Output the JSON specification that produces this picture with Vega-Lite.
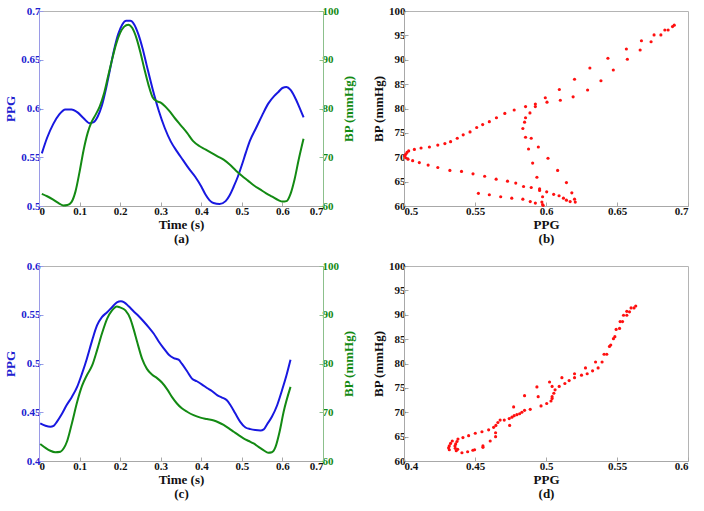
{
  "$schema": "https://vega.github.io/schema/vega-lite/v6.json",
  "padding": {"left": 4, "top": 4, "right": 0, "bottom": 0},
  "background": "white",
  "config": {
    "font": "Liberation Serif",
    "view": {"stroke": "#b4b4b4", "strokeWidth": 1},
    "axis": {
      "labelFont": "Liberation Serif", "labelFontWeight": "bold", "labelFontSize": 11, "labelColor": "#111111",
      "titleFont": "Liberation Serif", "titleFontWeight": "bold", "titleFontSize": 13, "titleColor": "#111111",
      "grid": false, "tickSize": -4, "labelPadding": 3, "titlePadding": 3, "domainColor": "#a8a8a8", "tickColor": "#a8a8a8", "titleLineHeight": 14
    }
  },
  "datasets": {
    "a_ppg": [
      {"t": 0.007, "ppg": 0.554}, {"t": 0.02, "ppg": 0.570}, {"t": 0.035, "ppg": 0.584}, {"t": 0.05, "ppg": 0.594},
      {"t": 0.065, "ppg": 0.599}, {"t": 0.08, "ppg": 0.599}, {"t": 0.095, "ppg": 0.596}, {"t": 0.11, "ppg": 0.590},
      {"t": 0.125, "ppg": 0.585}, {"t": 0.135, "ppg": 0.586}, {"t": 0.145, "ppg": 0.592}, {"t": 0.155, "ppg": 0.603},
      {"t": 0.165, "ppg": 0.620}, {"t": 0.175, "ppg": 0.640}, {"t": 0.185, "ppg": 0.660}, {"t": 0.195, "ppg": 0.676},
      {"t": 0.205, "ppg": 0.686}, {"t": 0.215, "ppg": 0.690}, {"t": 0.225, "ppg": 0.690}, {"t": 0.235, "ppg": 0.686},
      {"t": 0.245, "ppg": 0.676}, {"t": 0.255, "ppg": 0.662}, {"t": 0.265, "ppg": 0.645}, {"t": 0.28, "ppg": 0.620},
      {"t": 0.295, "ppg": 0.598}, {"t": 0.31, "ppg": 0.580}, {"t": 0.325, "ppg": 0.566}, {"t": 0.34, "ppg": 0.556},
      {"t": 0.355, "ppg": 0.547}, {"t": 0.37, "ppg": 0.538}, {"t": 0.385, "ppg": 0.530}, {"t": 0.40, "ppg": 0.520},
      {"t": 0.41, "ppg": 0.512}, {"t": 0.42, "ppg": 0.506}, {"t": 0.43, "ppg": 0.503}, {"t": 0.445, "ppg": 0.502},
      {"t": 0.46, "ppg": 0.505}, {"t": 0.47, "ppg": 0.511}, {"t": 0.48, "ppg": 0.520}, {"t": 0.49, "ppg": 0.530},
      {"t": 0.50, "ppg": 0.542}, {"t": 0.51, "ppg": 0.555}, {"t": 0.52, "ppg": 0.567}, {"t": 0.535, "ppg": 0.580},
      {"t": 0.55, "ppg": 0.593}, {"t": 0.565, "ppg": 0.605}, {"t": 0.58, "ppg": 0.613}, {"t": 0.59, "ppg": 0.617},
      {"t": 0.60, "ppg": 0.621}, {"t": 0.61, "ppg": 0.622}, {"t": 0.62, "ppg": 0.619}, {"t": 0.63, "ppg": 0.612},
      {"t": 0.64, "ppg": 0.603}, {"t": 0.652, "ppg": 0.591}
    ],
    "a_bp": [
      {"t": 0.007, "bp": 62.5}, {"t": 0.02, "bp": 62.0}, {"t": 0.035, "bp": 61.3}, {"t": 0.05, "bp": 60.5},
      {"t": 0.06, "bp": 60.1}, {"t": 0.07, "bp": 60.2}, {"t": 0.08, "bp": 60.8}, {"t": 0.09, "bp": 63.0},
      {"t": 0.10, "bp": 67.0}, {"t": 0.11, "bp": 71.5}, {"t": 0.12, "bp": 75.0}, {"t": 0.13, "bp": 77.3},
      {"t": 0.14, "bp": 78.8}, {"t": 0.15, "bp": 80.5}, {"t": 0.16, "bp": 83.0}, {"t": 0.17, "bp": 86.5},
      {"t": 0.18, "bp": 90.0}, {"t": 0.19, "bp": 93.2}, {"t": 0.20, "bp": 95.5}, {"t": 0.21, "bp": 96.8},
      {"t": 0.22, "bp": 97.2}, {"t": 0.23, "bp": 96.5}, {"t": 0.24, "bp": 94.5}, {"t": 0.25, "bp": 91.5},
      {"t": 0.26, "bp": 88.0}, {"t": 0.27, "bp": 84.8}, {"t": 0.28, "bp": 82.3}, {"t": 0.29, "bp": 81.5},
      {"t": 0.30, "bp": 81.2}, {"t": 0.31, "bp": 80.5}, {"t": 0.32, "bp": 79.6}, {"t": 0.335, "bp": 78.0},
      {"t": 0.35, "bp": 76.5}, {"t": 0.365, "bp": 75.0}, {"t": 0.38, "bp": 73.3}, {"t": 0.395, "bp": 72.3},
      {"t": 0.41, "bp": 71.6}, {"t": 0.425, "bp": 70.9}, {"t": 0.44, "bp": 70.2}, {"t": 0.455, "bp": 69.5},
      {"t": 0.47, "bp": 68.5}, {"t": 0.485, "bp": 67.3}, {"t": 0.50, "bp": 66.2}, {"t": 0.515, "bp": 65.2},
      {"t": 0.53, "bp": 64.2}, {"t": 0.545, "bp": 63.4}, {"t": 0.56, "bp": 62.6}, {"t": 0.575, "bp": 61.9},
      {"t": 0.59, "bp": 61.2}, {"t": 0.60, "bp": 60.9}, {"t": 0.61, "bp": 61.0}, {"t": 0.62, "bp": 62.5},
      {"t": 0.63, "bp": 65.5}, {"t": 0.64, "bp": 69.5}, {"t": 0.652, "bp": 73.8}
    ],
    "b_pts": [
      {"ppg": 0.5524, "bp": 62.6}, {"ppg": 0.5601, "bp": 62.3}, {"ppg": 0.5681, "bp": 61.9}, {"ppg": 0.5759, "bp": 61.6},
      {"ppg": 0.5837, "bp": 61.4}, {"ppg": 0.5889, "bp": 60.9}, {"ppg": 0.5925, "bp": 60.6}, {"ppg": 0.5976, "bp": 60.3},
      {"ppg": 0.5980, "bp": 60.1},
      {"ppg": 0.5971, "bp": 60.8}, {"ppg": 0.5976, "bp": 61.9}, {"ppg": 0.5955, "bp": 63.2}, {"ppg": 0.5936, "bp": 65.9},
      {"ppg": 0.5906, "bp": 68.8}, {"ppg": 0.5877, "bp": 71.7}, {"ppg": 0.5856, "bp": 74.1}, {"ppg": 0.5837, "bp": 75.9},
      {"ppg": 0.5849, "bp": 77.2}, {"ppg": 0.5856, "bp": 78.1}, {"ppg": 0.5887, "bp": 79.1}, {"ppg": 0.5925, "bp": 80.4},
      {"ppg": 0.5995, "bp": 82.2},
      {"ppg": 0.6094, "bp": 83.9}, {"ppg": 0.6201, "bp": 86.0}, {"ppg": 0.6309, "bp": 88.3}, {"ppg": 0.6436, "bp": 90.3},
      {"ppg": 0.6566, "bp": 92.2}, {"ppg": 0.6672, "bp": 93.9}, {"ppg": 0.6761, "bp": 95.1}, {"ppg": 0.6837, "bp": 96.1},
      {"ppg": 0.6891, "bp": 96.8},
      {"ppg": 0.6903, "bp": 97.1}, {"ppg": 0.6860, "bp": 96.1}, {"ppg": 0.6809, "bp": 95.1}, {"ppg": 0.6740, "bp": 93.7},
      {"ppg": 0.6663, "bp": 92.0}, {"ppg": 0.6573, "bp": 90.1}, {"ppg": 0.6474, "bp": 87.9}, {"ppg": 0.6387, "bp": 85.7},
      {"ppg": 0.6293, "bp": 83.8}, {"ppg": 0.6191, "bp": 82.4}, {"ppg": 0.6101, "bp": 81.7}, {"ppg": 0.6007, "bp": 81.3},
      {"ppg": 0.5925, "bp": 80.9},
      {"ppg": 0.5856, "bp": 80.4}, {"ppg": 0.5776, "bp": 79.7}, {"ppg": 0.5710, "bp": 79.0}, {"ppg": 0.5651, "bp": 78.1},
      {"ppg": 0.5601, "bp": 77.3}, {"ppg": 0.5554, "bp": 76.7}, {"ppg": 0.5512, "bp": 76.1}, {"ppg": 0.5465, "bp": 75.2},
      {"ppg": 0.5417, "bp": 74.6}, {"ppg": 0.5375, "bp": 73.9}, {"ppg": 0.5328, "bp": 73.2}, {"ppg": 0.5288, "bp": 72.8},
      {"ppg": 0.5238, "bp": 72.5}, {"ppg": 0.5179, "bp": 72.1}, {"ppg": 0.5120, "bp": 71.9}, {"ppg": 0.5073, "bp": 71.6},
      {"ppg": 0.5033, "bp": 71.3},
      {"ppg": 0.5021, "bp": 71.0}, {"ppg": 0.5012, "bp": 70.6}, {"ppg": 0.5005, "bp": 70.3}, {"ppg": 0.5012, "bp": 69.9},
      {"ppg": 0.5028, "bp": 69.6},
      {"ppg": 0.5061, "bp": 69.3}, {"ppg": 0.5108, "bp": 68.9}, {"ppg": 0.5170, "bp": 68.4}, {"ppg": 0.5238, "bp": 67.9},
      {"ppg": 0.5323, "bp": 67.3}, {"ppg": 0.5405, "bp": 67.1}, {"ppg": 0.5486, "bp": 66.6}, {"ppg": 0.5568, "bp": 66.1},
      {"ppg": 0.5649, "bp": 65.5}, {"ppg": 0.5729, "bp": 65.1}, {"ppg": 0.5787, "bp": 64.7}, {"ppg": 0.5842, "bp": 64.0},
      {"ppg": 0.5896, "bp": 63.8}, {"ppg": 0.5955, "bp": 63.5}, {"ppg": 0.6005, "bp": 62.9}, {"ppg": 0.6054, "bp": 62.4},
      {"ppg": 0.6092, "bp": 62.1}, {"ppg": 0.6123, "bp": 61.6}, {"ppg": 0.6144, "bp": 61.2}, {"ppg": 0.6170, "bp": 60.9},
      {"ppg": 0.6206, "bp": 60.8},
      {"ppg": 0.6201, "bp": 61.4}, {"ppg": 0.6182, "bp": 62.7}, {"ppg": 0.6144, "bp": 64.8}, {"ppg": 0.6082, "bp": 67.3},
      {"ppg": 0.6014, "bp": 69.8}, {"ppg": 0.5946, "bp": 72.1}, {"ppg": 0.5896, "bp": 73.9}
    ],
    "c_ppg": [
      {"t": 0.003, "ppg": 0.4385}, {"t": 0.016, "ppg": 0.4361}, {"t": 0.028, "ppg": 0.4351}, {"t": 0.036, "ppg": 0.4361},
      {"t": 0.044, "ppg": 0.4402}, {"t": 0.057, "ppg": 0.4487}, {"t": 0.069, "ppg": 0.4579}, {"t": 0.081, "ppg": 0.4657},
      {"t": 0.094, "ppg": 0.4760}, {"t": 0.106, "ppg": 0.4896}, {"t": 0.118, "ppg": 0.5049}, {"t": 0.131, "ppg": 0.5237},
      {"t": 0.143, "ppg": 0.5390}, {"t": 0.155, "ppg": 0.5475}, {"t": 0.168, "ppg": 0.5526}, {"t": 0.180, "ppg": 0.5577},
      {"t": 0.192, "ppg": 0.5628}, {"t": 0.202, "ppg": 0.5639}, {"t": 0.210, "ppg": 0.5628}, {"t": 0.221, "ppg": 0.5587},
      {"t": 0.233, "ppg": 0.5536}, {"t": 0.246, "ppg": 0.5485}, {"t": 0.258, "ppg": 0.5431}, {"t": 0.270, "ppg": 0.5373},
      {"t": 0.283, "ppg": 0.5305}, {"t": 0.295, "ppg": 0.5226}, {"t": 0.307, "ppg": 0.5158}, {"t": 0.320, "ppg": 0.5090},
      {"t": 0.332, "ppg": 0.5056}, {"t": 0.344, "ppg": 0.5039}, {"t": 0.352, "ppg": 0.4998}, {"t": 0.365, "ppg": 0.4920},
      {"t": 0.377, "ppg": 0.4845}, {"t": 0.389, "ppg": 0.4818}, {"t": 0.402, "ppg": 0.4784}, {"t": 0.414, "ppg": 0.4749},
      {"t": 0.427, "ppg": 0.4715}, {"t": 0.439, "ppg": 0.4675}, {"t": 0.451, "ppg": 0.4651}, {"t": 0.463, "ppg": 0.4623},
      {"t": 0.472, "ppg": 0.4572}, {"t": 0.484, "ppg": 0.4487}, {"t": 0.496, "ppg": 0.4402}, {"t": 0.509, "ppg": 0.4344},
      {"t": 0.521, "ppg": 0.4327}, {"t": 0.533, "ppg": 0.4317}, {"t": 0.546, "ppg": 0.4313}, {"t": 0.554, "ppg": 0.4324},
      {"t": 0.562, "ppg": 0.4375}, {"t": 0.574, "ppg": 0.4453}, {"t": 0.587, "ppg": 0.4572}, {"t": 0.599, "ppg": 0.4726},
      {"t": 0.610, "ppg": 0.4879}, {"t": 0.620, "ppg": 0.5039}
    ],
    "c_bp": [
      {"t": 0.003, "bp": 63.5}, {"t": 0.016, "bp": 62.7}, {"t": 0.028, "bp": 62.1}, {"t": 0.040, "bp": 61.8},
      {"t": 0.053, "bp": 61.9}, {"t": 0.061, "bp": 62.6}, {"t": 0.069, "bp": 64.0}, {"t": 0.081, "bp": 67.7},
      {"t": 0.094, "bp": 72.1}, {"t": 0.106, "bp": 75.4}, {"t": 0.118, "bp": 77.6}, {"t": 0.131, "bp": 79.6},
      {"t": 0.143, "bp": 82.7}, {"t": 0.155, "bp": 86.1}, {"t": 0.168, "bp": 89.2}, {"t": 0.180, "bp": 90.9},
      {"t": 0.192, "bp": 91.7}, {"t": 0.200, "bp": 91.5}, {"t": 0.213, "bp": 90.9}, {"t": 0.225, "bp": 89.2},
      {"t": 0.233, "bp": 87.1}, {"t": 0.242, "bp": 84.4}, {"t": 0.254, "bp": 81.0}, {"t": 0.266, "bp": 78.9},
      {"t": 0.279, "bp": 77.7}, {"t": 0.291, "bp": 77.0}, {"t": 0.303, "bp": 76.1}, {"t": 0.316, "bp": 74.7},
      {"t": 0.328, "bp": 73.1}, {"t": 0.340, "bp": 71.8}, {"t": 0.352, "bp": 70.8}, {"t": 0.365, "bp": 70.1},
      {"t": 0.381, "bp": 69.4}, {"t": 0.398, "bp": 68.9}, {"t": 0.414, "bp": 68.6}, {"t": 0.431, "bp": 68.3},
      {"t": 0.443, "bp": 67.9}, {"t": 0.455, "bp": 67.4}, {"t": 0.468, "bp": 66.7}, {"t": 0.480, "bp": 66.0},
      {"t": 0.492, "bp": 65.3}, {"t": 0.505, "bp": 64.6}, {"t": 0.517, "bp": 64.1}, {"t": 0.529, "bp": 63.6},
      {"t": 0.541, "bp": 62.9}, {"t": 0.554, "bp": 62.2}, {"t": 0.565, "bp": 61.7}, {"t": 0.574, "bp": 61.8},
      {"t": 0.583, "bp": 62.9}, {"t": 0.593, "bp": 66.0}, {"t": 0.603, "bp": 70.1}, {"t": 0.620, "bp": 75.2}
    ],
    "d_pts": [
      {"ppg": 0.5632, "bp": 91.8}, {"ppg": 0.5620, "bp": 91.4}, {"ppg": 0.5599, "bp": 91.4}, {"ppg": 0.5588, "bp": 90.6},
      {"ppg": 0.5569, "bp": 90.7}, {"ppg": 0.5569, "bp": 89.9}, {"ppg": 0.5546, "bp": 89.9}, {"ppg": 0.5539, "bp": 88.6},
      {"ppg": 0.5522, "bp": 88.6}, {"ppg": 0.5518, "bp": 87.2}, {"ppg": 0.5494, "bp": 87.0}, {"ppg": 0.5485, "bp": 85.5},
      {"ppg": 0.5475, "bp": 85.1}, {"ppg": 0.5456, "bp": 83.8}, {"ppg": 0.5447, "bp": 83.5}, {"ppg": 0.5428, "bp": 81.9},
      {"ppg": 0.5409, "bp": 81.9}, {"ppg": 0.5395, "bp": 80.3}, {"ppg": 0.5349, "bp": 80.3}, {"ppg": 0.5367, "bp": 79.1},
      {"ppg": 0.5328, "bp": 78.5}, {"ppg": 0.5278, "bp": 79.1}, {"ppg": 0.5290, "bp": 77.9}, {"ppg": 0.5250, "bp": 77.6},
      {"ppg": 0.5201, "bp": 77.9}, {"ppg": 0.5201, "bp": 77.1}, {"ppg": 0.5163, "bp": 76.5}, {"ppg": 0.5133, "bp": 75.9},
      {"ppg": 0.5112, "bp": 77.1}, {"ppg": 0.5093, "bp": 75.3}, {"ppg": 0.5025, "bp": 76.2}, {"ppg": 0.5043, "bp": 75.3},
      {"ppg": 0.5064, "bp": 74.6}, {"ppg": 0.5055, "bp": 73.9}, {"ppg": 0.5043, "bp": 73.2}, {"ppg": 0.5043, "bp": 72.8},
      {"ppg": 0.4936, "bp": 75.2}, {"ppg": 0.4945, "bp": 73.2}, {"ppg": 0.4849, "bp": 73.4},
      {"ppg": 0.5035, "bp": 72.3}, {"ppg": 0.5005, "bp": 71.8}, {"ppg": 0.4965, "bp": 71.3},
      {"ppg": 0.4772, "bp": 71.1}, {"ppg": 0.4889, "bp": 70.6}, {"ppg": 0.4849, "bp": 70.4}, {"ppg": 0.4830, "bp": 70.0},
      {"ppg": 0.4814, "bp": 69.7}, {"ppg": 0.4795, "bp": 69.5}, {"ppg": 0.4776, "bp": 69.3}, {"ppg": 0.4760, "bp": 69.0},
      {"ppg": 0.4741, "bp": 68.7}, {"ppg": 0.4706, "bp": 68.4}, {"ppg": 0.4744, "bp": 67.3}, {"ppg": 0.4677, "bp": 68.4},
      {"ppg": 0.4661, "bp": 67.9}, {"ppg": 0.4647, "bp": 67.3}, {"ppg": 0.4631, "bp": 66.9}, {"ppg": 0.4596, "bp": 66.4},
      {"ppg": 0.4645, "bp": 65.8}, {"ppg": 0.4645, "bp": 65.0}, {"ppg": 0.4607, "bp": 64.1}, {"ppg": 0.4549, "bp": 66.0},
      {"ppg": 0.4502, "bp": 65.7}, {"ppg": 0.4455, "bp": 65.2}, {"ppg": 0.4415, "bp": 64.8}, {"ppg": 0.4380, "bp": 64.5},
      {"ppg": 0.4556, "bp": 63.1}, {"ppg": 0.4556, "bp": 62.8}, {"ppg": 0.4497, "bp": 62.3}, {"ppg": 0.4485, "bp": 62.2},
      {"ppg": 0.4448, "bp": 61.9}, {"ppg": 0.4408, "bp": 61.7}, {"ppg": 0.4378, "bp": 62.4},
      {"ppg": 0.4340, "bp": 64.1}, {"ppg": 0.4328, "bp": 63.6}, {"ppg": 0.4319, "bp": 63.1}, {"ppg": 0.4314, "bp": 62.7},
      {"ppg": 0.4319, "bp": 62.3}, {"ppg": 0.4373, "bp": 64.0}, {"ppg": 0.4364, "bp": 63.5}, {"ppg": 0.4359, "bp": 63.1},
      {"ppg": 0.4361, "bp": 62.6}, {"ppg": 0.4368, "bp": 62.1}
    ]
  },
  "columns": 2,
  "spacing": {"row": 60, "column": 81},
  "bounds": "flush",
  "concat": [
    {
      "width": 284, "height": 195,
      "layer": [
        {
          "data": {"name": "a_ppg"},
          "mark": {"type": "line", "color": "#1818e0", "strokeWidth": 2, "interpolate": "monotone"},
          "encoding": {
            "x": {"field": "t", "type": "quantitative", "scale": {"domain": [0, 0.7], "nice": false},
                  "axis": {"values": [0, 0.1, 0.2, 0.3, 0.4, 0.5, 0.6, 0.7], "format": "~g", "title": ["Time (s)", "(a)"], "titlePadding": 2}},
            "y": {"field": "ppg", "type": "quantitative", "scale": {"domain": [0.5, 0.7], "nice": false, "zero": false},
                  "axis": {"values": [0.5, 0.55, 0.6, 0.65, 0.7], "format": "~g", "title": "PPG", "labelColor": "#2020d0", "titleColor": "#2020d0", "domainColor": "#9a9ae6", "tickColor": "#9a9ae6"}}
          }
        },
        {
          "data": {"name": "a_bp"},
          "mark": {"type": "line", "color": "#138a13", "strokeWidth": 2, "interpolate": "monotone"},
          "encoding": {
            "x": {"field": "t", "type": "quantitative"},
            "y": {"field": "bp", "type": "quantitative", "scale": {"domain": [60, 100], "nice": false, "zero": false},
                  "axis": {"orient": "right", "values": [60, 70, 80, 90, 100], "title": "BP (mmHg)", "titleAngle": 270, "titleBaseline": "top", "titlePadding": 4, "labelColor": "#138a13", "titleColor": "#138a13", "domainColor": "#8cc08c", "tickColor": "#8cc08c"}}
          }
        }
      ],
      "resolve": {"scale": {"y": "independent"}}
    },
    {
      "width": 284, "height": 195,
      "data": {"name": "b_pts"},
      "mark": {"type": "circle", "color": "#ff1010", "size": 10, "opacity": 1},
      "encoding": {
        "x": {"field": "ppg", "type": "quantitative", "scale": {"domain": [0.5, 0.7], "nice": false, "zero": false},
              "axis": {"values": [0.5, 0.55, 0.6, 0.65, 0.7], "format": "~g", "title": ["PPG", "(b)"], "titlePadding": 2}},
        "y": {"field": "bp", "type": "quantitative", "scale": {"domain": [60, 100], "nice": false, "zero": false},
              "axis": {"values": [60, 65, 70, 75, 80, 85, 90, 95, 100], "title": "BP (mmHg)"}}
      }
    },
    {
      "width": 284, "height": 195,
      "layer": [
        {
          "data": {"name": "c_ppg"},
          "mark": {"type": "line", "color": "#1818e0", "strokeWidth": 2, "interpolate": "monotone"},
          "encoding": {
            "x": {"field": "t", "type": "quantitative", "scale": {"domain": [0, 0.7], "nice": false},
                  "axis": {"values": [0, 0.1, 0.2, 0.3, 0.4, 0.5, 0.6, 0.7], "format": "~g", "title": ["Time (s)", "(c)"], "titlePadding": 2}},
            "y": {"field": "ppg", "type": "quantitative", "scale": {"domain": [0.4, 0.6], "nice": false, "zero": false},
                  "axis": {"values": [0.4, 0.45, 0.5, 0.55, 0.6], "format": "~g", "title": "PPG", "labelColor": "#2020d0", "titleColor": "#2020d0", "domainColor": "#9a9ae6", "tickColor": "#9a9ae6"}}
          }
        },
        {
          "data": {"name": "c_bp"},
          "mark": {"type": "line", "color": "#138a13", "strokeWidth": 2, "interpolate": "monotone"},
          "encoding": {
            "x": {"field": "t", "type": "quantitative"},
            "y": {"field": "bp", "type": "quantitative", "scale": {"domain": [60, 100], "nice": false, "zero": false},
                  "axis": {"orient": "right", "values": [60, 70, 80, 90, 100], "title": "BP (mmHg)", "titleAngle": 270, "titleBaseline": "top", "titlePadding": 4, "labelColor": "#138a13", "titleColor": "#138a13", "domainColor": "#8cc08c", "tickColor": "#8cc08c"}}
          }
        }
      ],
      "resolve": {"scale": {"y": "independent"}}
    },
    {
      "width": 284, "height": 195,
      "data": {"name": "d_pts"},
      "mark": {"type": "circle", "color": "#ff1010", "size": 10, "opacity": 1},
      "encoding": {
        "x": {"field": "ppg", "type": "quantitative", "scale": {"domain": [0.4, 0.6], "nice": false, "zero": false},
              "axis": {"values": [0.4, 0.45, 0.5, 0.55, 0.6], "format": "~g", "title": ["PPG", "(d)"], "titlePadding": 2}},
        "y": {"field": "bp", "type": "quantitative", "scale": {"domain": [60, 100], "nice": false, "zero": false},
              "axis": {"values": [60, 65, 70, 75, 80, 85, 90, 95, 100], "title": "BP (mmHg)"}}
      }
    }
  ]
}
